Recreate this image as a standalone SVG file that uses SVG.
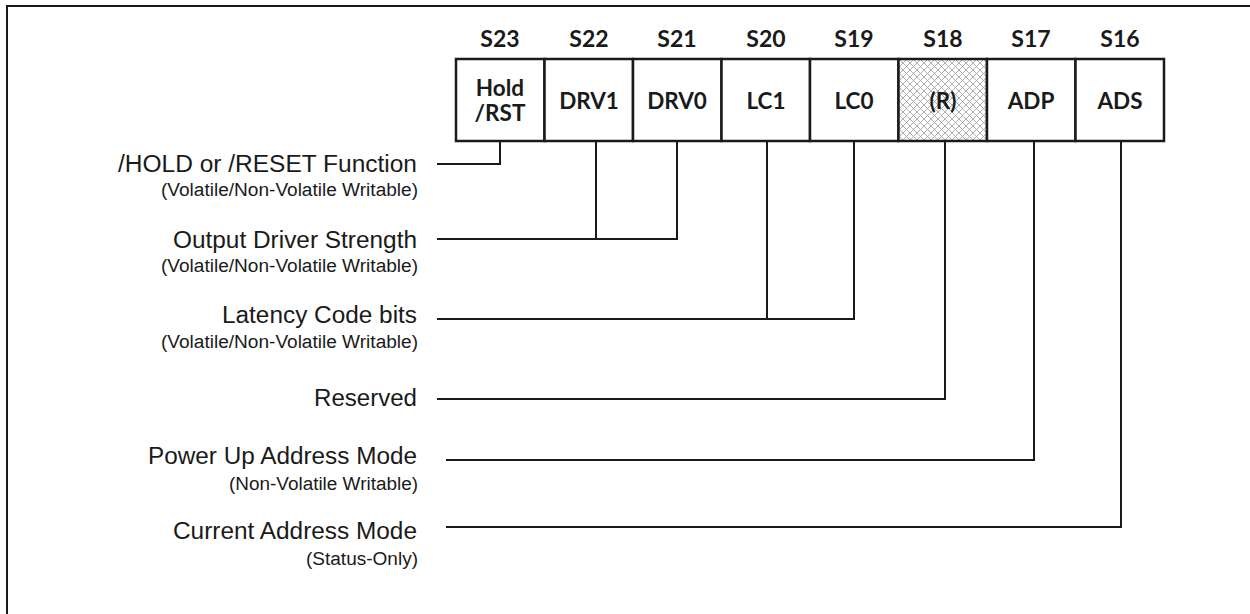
<svg xmlns="http://www.w3.org/2000/svg" width="1250" height="614" viewBox="0 0 1250 614">
<defs>
<pattern id="hatch" patternUnits="userSpaceOnUse" width="7" height="7">
<rect width="7" height="7" fill="#ffffff"/>
<path d="M0,0 L7,7 M7,0 L0,7 M-1,6 L1,8 M6,-1 L8,1 M-1,1 L1,-1 M6,8 L8,6" stroke="#9a9a9a" stroke-width="0.8" fill="none"/>
</pattern>
<style>
.frame{fill:none;stroke:#1a1a1a;stroke-width:2}
.cell{fill:#ffffff;stroke:#1a1a1a;stroke-width:2.5}
.hcell{fill:url(#hatch);stroke:#1a1a1a;stroke-width:2.5}
.conn{fill:none;stroke:#1a1a1a;stroke-width:2}
.hdr{font-family:Lato,"Liberation Sans",sans-serif;font-weight:bold;font-size:23px;fill:#1a1a1a;text-anchor:middle}
.bit{font-family:Lato,"Liberation Sans",sans-serif;font-weight:bold;font-size:22.5px;fill:#1a1a1a;text-anchor:middle}
.lbl{font-family:"Liberation Sans",Arial,sans-serif;font-size:23px;fill:#1a1a1a;text-anchor:end}
.sub{font-family:"Liberation Sans",Arial,sans-serif;font-size:18px;fill:#1a1a1a;text-anchor:end}
</style>
</defs>
<rect width="1250" height="614" fill="#ffffff"/>
<path class="frame" d="M7,614 L7,6 L1250,6"/>

<g id="headers">
<text class="hdr" x="500" y="47">S23</text>
<text class="hdr" x="589" y="47">S22</text>
<text class="hdr" x="677" y="47">S21</text>
<text class="hdr" x="766" y="47">S20</text>
<text class="hdr" x="854" y="47">S19</text>
<text class="hdr" x="943" y="47">S18</text>
<text class="hdr" x="1031" y="47">S17</text>
<text class="hdr" x="1120" y="47">S16</text>
</g>

<g id="bit-S23"><rect class="cell" x="456" y="59" width="88.5" height="82"/><text class="bit" x="500" y="96">Hold</text><text class="bit" x="500" y="121">/RST</text></g>
<g id="bit-S22"><rect class="cell" x="544.5" y="59" width="88.5" height="82"/><text class="bit" x="589" y="109">DRV1</text></g>
<g id="bit-S21"><rect class="cell" x="633" y="59" width="88.5" height="82"/><text class="bit" x="677" y="109">DRV0</text></g>
<g id="bit-S20"><rect class="cell" x="721.5" y="59" width="88.5" height="82"/><text class="bit" x="766" y="109">LC1</text></g>
<g id="bit-S19"><rect class="cell" x="810" y="59" width="88.5" height="82"/><text class="bit" x="854" y="109">LC0</text></g>
<g id="bit-S18"><rect class="hcell" x="898.5" y="59" width="88.5" height="82"/><text class="bit" x="943" y="109">(R)</text></g>
<g id="bit-S17"><rect class="cell" x="987" y="59" width="88.5" height="82"/><text class="bit" x="1031" y="109">ADP</text></g>
<g id="bit-S16"><rect class="cell" x="1075.5" y="59" width="88.5" height="82"/><text class="bit" x="1120" y="109">ADS</text></g>

<g id="connectors">
<path class="conn" d="M437,164 L500,164 L500,141"/>
<path class="conn" d="M437,239 L677,239 L677,141 M596,141 L596,239"/>
<path class="conn" d="M437,319 L854,319 L854,141 M767,141 L767,319"/>
<path class="conn" d="M437,399 L945,399 L945,141"/>
<path class="conn" d="M446,460 L1034,460 L1034,141"/>
<path class="conn" d="M446,527 L1121,527 L1121,141"/>
</g>

<g id="label-hold">
<text class="lbl" x="417" y="172" textLength="299" lengthAdjust="spacingAndGlyphs">/HOLD or /RESET Function</text>
<text class="sub" x="418" y="196" textLength="257" lengthAdjust="spacingAndGlyphs">(Volatile/Non-Volatile Writable)</text>
</g>
<g id="label-drv">
<text class="lbl" x="417" y="248" textLength="244" lengthAdjust="spacingAndGlyphs">Output Driver Strength</text>
<text class="sub" x="418" y="272" textLength="257" lengthAdjust="spacingAndGlyphs">(Volatile/Non-Volatile Writable)</text>
</g>
<g id="label-lc">
<text class="lbl" x="417" y="323" textLength="195" lengthAdjust="spacingAndGlyphs">Latency Code bits</text>
<text class="sub" x="418" y="348" textLength="257" lengthAdjust="spacingAndGlyphs">(Volatile/Non-Volatile Writable)</text>
</g>
<g id="label-res">
<text class="lbl" x="417" y="406" textLength="103" lengthAdjust="spacingAndGlyphs">Reserved</text>
</g>
<g id="label-adp">
<text class="lbl" x="417" y="464" textLength="269" lengthAdjust="spacingAndGlyphs">Power Up Address Mode</text>
<text class="sub" x="418" y="490" textLength="189" lengthAdjust="spacingAndGlyphs">(Non-Volatile Writable)</text>
</g>
<g id="label-ads">
<text class="lbl" x="417" y="539" textLength="244" lengthAdjust="spacingAndGlyphs">Current Address Mode</text>
<text class="sub" x="418" y="565" textLength="112" lengthAdjust="spacingAndGlyphs">(Status-Only)</text>
</g>
</svg>
